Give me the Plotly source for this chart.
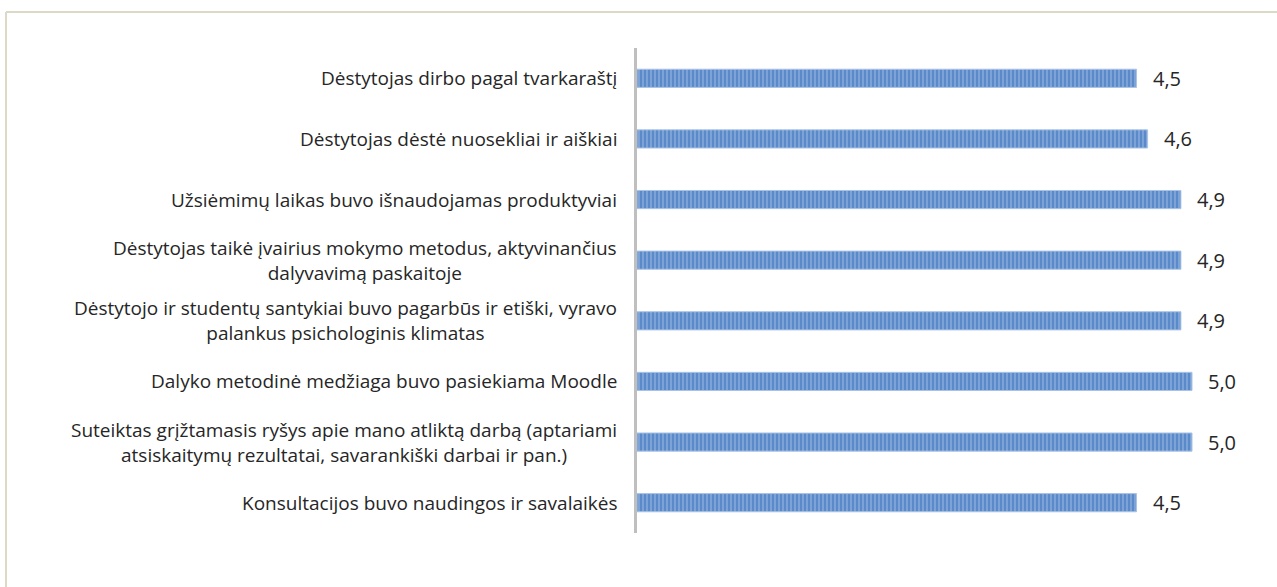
import plotly.graph_objects as go

categories = [
    "Dėstytojas dirbo pagal tvarkaraštį",
    "Dėstytojas dėstė nuosekliai ir aiškiai",
    "Užsiėmimų laikas buvo išnaudojamas produktyviai",
    "Dėstytojas taikė įvairius mokymo metodus, aktyvinančius<br>dalyvavimą paskaitoje",
    "Dėstytojo ir studentų santykiai buvo pagarbūs ir etiški, vyravo<br>palankus psichologinis klimatas",
    "Dalyko metodinė medžiaga buvo pasiekiama Moodle",
    "Suteiktas grįžtamasis ryšys apie mano atliktą darbą (aptariami<br>atsiskaitymų rezultatai, savarankiški darbai ir pan.)",
    "Konsultacijos buvo naudingos ir savalaikės",
]
values = [4.5, 4.6, 4.9, 4.9, 4.9, 5.0, 5.0, 4.5]
value_labels = ["4,5", "4,6", "4,9", "4,9", "4,9", "5,0", "5,0", "4,5"]

W, H = 1277, 587
L, R, T, B = 637, 18, 48, 54
FONT = "Open Sans"

fig = go.Figure()
fig.add_trace(go.Bar(
    x=values, y=list(range(len(values))), orientation="h",
    marker=dict(
        color="#5b8bc9",
        line=dict(width=1, color="#a9c3e6"),
        pattern=dict(shape="|", fgcolor="#a8c2e6", bgcolor="#5a8ac9", size=4, solidity=0.45),
    ),
    width=0.3, hoverinfo="skip",
))

annotations = []
for i, (c, v, vl) in enumerate(zip(categories, values, value_labels)):
    annotations.append(dict(
        x=-0.029, xref="paper", y=i, yref="y", text=c, showarrow=False,
        xanchor="right", yanchor="middle", align="center",
        font=dict(family=FONT, size=19, color="#262626"),
    ))
    annotations.append(dict(
        x=v, xref="x", y=i, yref="y", text=vl, showarrow=False,
        xanchor="left", yanchor="middle", xshift=14,
        font=dict(family=FONT, size=20, color="#262626"),
    ))

pw = W - L - R
ph = H - T - B
shapes = [
    dict(type="line", xref="paper", yref="paper",
         x0=(6 - L) / pw, x1=(W - L) / pw, y0=1 + (T - 12) / ph, y1=1 + (T - 12) / ph,
         line=dict(color="#dcdac6", width=2)),
    dict(type="line", xref="paper", yref="paper",
         x0=(6 - L) / pw, x1=(6 - L) / pw, y0=1 + (T - 12) / ph, y1=-B / ph,
         line=dict(color="#dcdac6", width=2)),
]

fig.update_layout(
    width=W, height=H,
    margin=dict(l=L, r=R, t=T, b=B),
    paper_bgcolor="white", plot_bgcolor="white",
    showlegend=False,
    annotations=annotations,
    shapes=shapes,
    xaxis=dict(range=[0, pw / 111.0], visible=False, fixedrange=True),
    yaxis=dict(range=[len(values) - 0.5, -0.5], showticklabels=False, showgrid=False,
               zeroline=False, showline=True, linecolor="#bfbfbf", linewidth=3, ticks="",
               fixedrange=True),
)

fig.write_html("out.html", config={"displayModeBar": False},
               post_script="document.body.style.margin='0';document.body.style.overflow='hidden';")
